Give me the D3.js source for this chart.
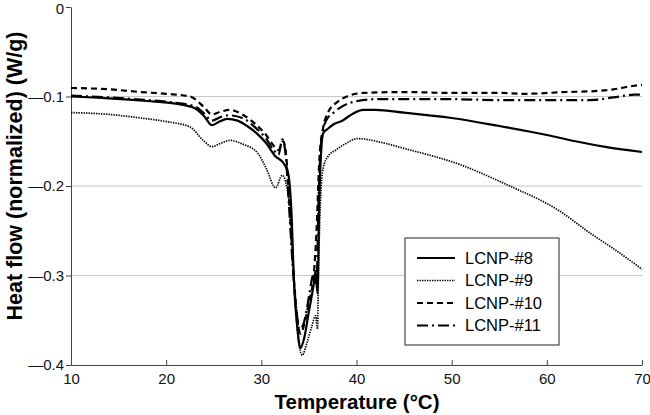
<!DOCTYPE html>
<html>
<head>
<meta charset="utf-8">
<script src="https://cdn.jsdelivr.net/npm/d3@7"></script>
<style>
  body { margin: 0; background: white; }
  svg { font-family: "Liberation Sans", Arial, sans-serif; }
</style>
</head>
<body>
<div id="chart"></div>
<script>
// Temperatur (°C) och värmeflöde (W/g) för varje prov
const t8 = [10, 14, 18, 21, 23, 24, 24.8, 25.6, 26.4, 27.5, 28.5, 29.6, 30.5, 31.5, 32.3, 32.8, 33.2, 33.4, 33.8, 34.1, 34.5, 35.0, 35.5, 35.7, 35.9, 36.1, 36.5, 37.0, 37.6, 38.5, 39.5, 40.7, 42, 45, 50, 55, 60, 63, 66, 70];
const v8 = [-0.100, -0.102, -0.105, -0.108, -0.113, -0.122, -0.132, -0.128, -0.125, -0.127, -0.133, -0.142, -0.152, -0.167, -0.174, -0.185, -0.238, -0.300, -0.360, -0.381, -0.370, -0.340, -0.310, -0.295, -0.320, -0.210, -0.141, -0.136, -0.131, -0.127, -0.120, -0.115, -0.115, -0.118, -0.124, -0.133, -0.143, -0.150, -0.156, -0.162];

const t9 = [10, 14, 17.3, 20, 22.5, 23.9, 24.8, 25.8, 26.7, 28, 29.6, 30.5, 31.5, 32.2, 32.9, 33.3, 33.7, 34.0, 34.3, 34.8, 35.3, 35.7, 35.9, 36.0, 36.2, 36.5, 37.0, 37.8, 38.8, 40.1, 42.5, 45, 50.6, 55.9, 61.2, 64.6, 67, 70];
const v9 = [-0.118, -0.120, -0.124, -0.128, -0.134, -0.149, -0.156, -0.152, -0.149, -0.153, -0.163, -0.180, -0.202, -0.188, -0.216, -0.280, -0.350, -0.380, -0.389, -0.375, -0.357, -0.345, -0.360, -0.300, -0.220, -0.180, -0.167, -0.160, -0.153, -0.147, -0.151, -0.158, -0.175, -0.199, -0.227, -0.253, -0.270, -0.293];

const t10 = [10, 14, 17.3, 20, 22.5, 23.9, 24.8, 25.7, 26.7, 28, 29.6, 30.5, 31.3, 31.8, 32.3, 32.6, 33.0, 33.4, 33.8, 34.1, 34.5, 35.0, 35.5, 35.8, 36.1, 36.5, 37.0, 38, 39, 40.7, 45, 50, 55, 57.6, 62, 65, 67, 69.2, 70];
const v10 = [-0.0905, -0.092, -0.095, -0.097, -0.100, -0.111, -0.120, -0.117, -0.115, -0.120, -0.133, -0.143, -0.155, -0.160, -0.150, -0.165, -0.230, -0.300, -0.350, -0.365, -0.355, -0.330, -0.300, -0.250, -0.170, -0.135, -0.118, -0.106, -0.100, -0.096, -0.095, -0.096, -0.096, -0.097, -0.095, -0.094, -0.092, -0.088, -0.087];

const t11 = [10, 14, 18, 21, 23, 24, 24.8, 25.7, 26.5, 28, 29.6, 30.5, 31.3, 31.8, 32.2, 32.5, 32.9, 33.3, 33.7, 34.0, 34.4, 34.9, 35.4, 35.6, 35.8, 36.0, 36.3, 36.8, 37.6, 38.5, 40.1, 42, 45, 50, 55, 60, 64.6, 67, 69.2, 70];
const v11 = [-0.099, -0.101, -0.104, -0.107, -0.111, -0.119, -0.127, -0.123, -0.121, -0.124, -0.137, -0.147, -0.160, -0.165, -0.148, -0.160, -0.220, -0.290, -0.340, -0.360, -0.355, -0.330, -0.300, -0.295, -0.310, -0.220, -0.150, -0.127, -0.118, -0.111, -0.105, -0.103, -0.103, -0.103, -0.104, -0.104, -0.104, -0.101, -0.098, -0.098];

const names = ["LCNP-#8", "LCNP-#9", "LCNP-#10", "LCNP-#11"];
const xTicks = [10, 20, 30, 40, 50, 60, 70];
const yTicks = [0, -0.1, -0.2, -0.3, -0.4];

const width = 650, height = 415;
const margin = {top: 7, right: 8, bottom: 50, left: 71};

// linjestilar: heldragen, prickad, streckad, streck-punkt
const styles = [
  {dash: null, w: 2.2},
  {dash: "1.4,1.1", w: 1.7},
  {dash: "6,4", w: 2.2},
  {dash: "11,4,2,4", w: 2.2}
];

const series = [[t8, v8], [t9, v9], [t10, v10], [t11, v11]].map((s, i) => ({
  name: names[i],
  points: s[0].map((t, j) => [t, s[1][j]])
}));

const x = d3.scaleLinear().domain([10, 70]).range([margin.left, width - margin.right]);
const y = d3.scaleLinear().domain([-0.4, 0]).range([height - margin.bottom, margin.top]);

const svg = d3.select("#chart").append("svg")
  .attr("width", width)
  .attr("height", height);

// stödlinjer
svg.append("g")
  .selectAll("line")
  .data(yTicks.filter(d => d !== 0 && d !== -0.4))
  .enter().append("line")
    .attr("x1", x(10)).attr("x2", x(70))
    .attr("y1", d => y(d)).attr("y2", d => y(d))
    .attr("stroke", "#c8c8c8")
    .attr("stroke-width", 1);

// lång minus som i originalet
const fmt = d => d === 0 ? "0" : "\u2014" + Math.abs(d).toFixed(1);

// y-axeln, ticks utåt
const yAxis = svg.append("g")
  .attr("transform", `translate(${margin.left},0)`)
  .call(d3.axisLeft(y).tickValues(yTicks).tickFormat(fmt).tickSizeInner(5).tickSizeOuter(0).tickPadding(2));

// x-axeln, ticks inåt (uppåt)
const xAxis = svg.append("g")
  .attr("transform", `translate(0,${height - margin.bottom})`)
  .call(d3.axisBottom(x).tickValues(xTicks).tickSizeInner(-5).tickSizeOuter(0).tickPadding(8));

[xAxis, yAxis].forEach(a => {
  a.select(".domain").attr("stroke", "#444");
  a.selectAll(".tick line").attr("stroke", "#444");
  a.selectAll("text").attr("font-size", 15).attr("fill", "#111")
    .attr("font-family", "Liberation Sans, Arial, sans-serif");
});

// nollan ska inte klippas i överkanten
yAxis.selectAll(".tick text").filter(d => d === 0).attr("dy", "0.4em");

const line = d3.line()
  .x(d => x(d[0]))
  .y(d => y(d[1]))
  .curve(d3.curveMonotoneX);

svg.append("g")
  .selectAll("path")
  .data(series)
  .enter().append("path")
    .attr("d", d => line(d.points))
    .attr("fill", "none")
    .attr("stroke", "#000")
    .attr("stroke-width", (d, i) => styles[i].w)
    .attr("stroke-dasharray", (d, i) => styles[i].dash)
    .attr("stroke-linejoin", "round");

// axeltitlar
svg.append("text")
  .attr("x", 357)
  .attr("y", 409)
  .attr("text-anchor", "middle")
  .attr("font-size", 20.5)
  .attr("font-weight", "bold")
  .text("Temperature (\u00B0C)");

svg.append("text")
  .attr("transform", "translate(22,176) rotate(-90)")
  .attr("text-anchor", "middle")
  .attr("font-size", 21.5)
  .attr("font-weight", "bold")
  .text("Heat flow (normalized) (W/g)");

// legend
const legend = svg.append("g").attr("transform", "translate(405,238)");
legend.append("rect")
  .attr("width", 154).attr("height", 107)
  .attr("fill", "white")
  .attr("stroke", "#222")
  .attr("stroke-width", 1);

const item = legend.selectAll("g.item")
  .data(series)
  .enter().append("g")
    .attr("class", "item")
    .attr("transform", (d, i) => `translate(0,${20 + i * 22.5})`);

item.append("line")
  .attr("x1", 12).attr("x2", 50)
  .attr("stroke", "#000")
  .attr("stroke-width", (d, i) => styles[i].w)
  .attr("stroke-dasharray", (d, i) => styles[i].dash);

item.append("text")
  .attr("x", 60)
  .attr("dy", "0.35em")
  .attr("font-size", 16.5)
  .text(d => d.name);
</script>
</body>
</html>
